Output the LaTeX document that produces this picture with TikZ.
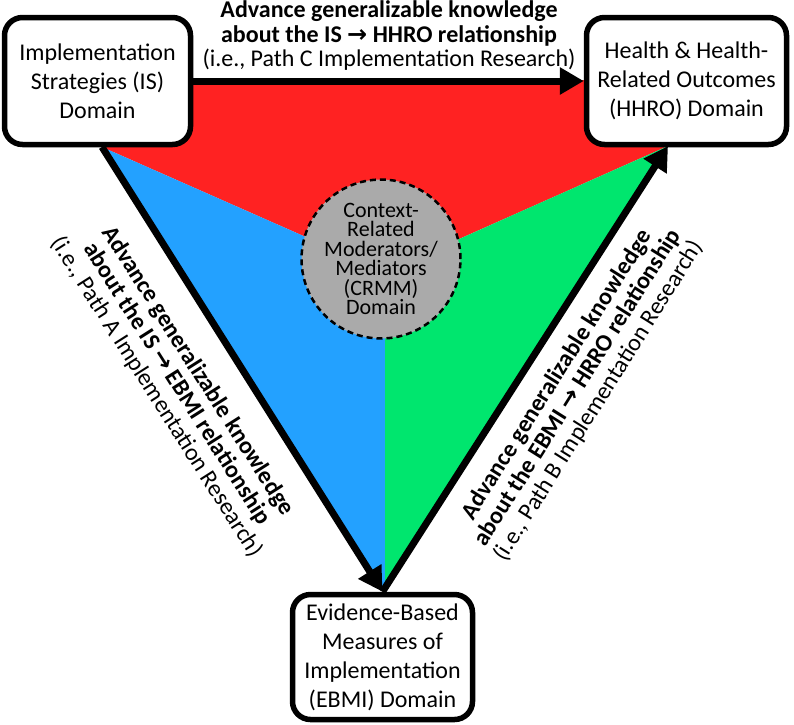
\documentclass[tikz,border=0pt]{standalone}
\usepackage{fontspec}
\setmainfont{Carlito}
\newfontfamily\symfont{DejaVu Sans}
\usetikzlibrary{arrows.meta,calc}
\definecolor{sectred}{RGB}{255,34,34}
\definecolor{sectblue}{RGB}{35,161,255}
\definecolor{sectgreen}{RGB}{0,230,110}
\definecolor{crmmgray}{RGB}{170,170,170}
\newcommand{\rarr}{{\symfont\bfseries\fontsize{24}{24}\selectfont →}}
\tikzset{
  domainbox/.style={draw, line width=5.5pt, rounded corners=18pt, fill=white, align=center,
    font=\fontsize{24}{29}\selectfont, inner sep=0pt},
  pathlabel/.style={align=center, font=\fontsize{24}{24.5}\selectfont, inner sep=0pt},
  conn/.style={line width=7pt},
  arrowed/.style={-{Triangle[length=24pt,width=26pt]}},
}
\begin{document}
\begin{tikzpicture}[x=1pt,y=-1pt]
\useasboundingbox (0,0) rectangle (794,724);
% sector fills
\coordinate (tl) at (60,80);
\coordinate (tr) at (709,80);
\coordinate (ISb) at (102,147);
\coordinate (HHb) at (668,146);
\coordinate (mid) at (385,272);
\coordinate (bot) at (385,592);
\fill[sectred] (tl) -- (tr) -- (HHb) -- (mid) -- (ISb) -- cycle;
\fill[sectblue] (ISb) -- (mid) -- (bot) -- cycle;
\fill[sectgreen] (HHb) -- (mid) -- (bot) -- cycle;
% CRMM circle
\node[circle, draw, fill=crmmgray, dashed, dash pattern=on 6pt off 4pt, line width=2.5pt,
  minimum size=140pt, inner sep=0pt, align=center, font=\fontsize{22}{19.5}\selectfont]
  (CRMM) at (381,259) {Context-\\Related\\Moderators/\\Mediators\\(CRMM)\\Domain};
% domain boxes
\node[domainbox, minimum width=186pt, minimum height=127pt] (IS) at (97.5,81)
  {Implementation\\Strategies (IS)\\Domain};
\node[domainbox, minimum width=200pt, minimum height=127pt] (HHRO) at (686.5,81)
  {Health \& Health-\\Related Outcomes\\(HHRO) Domain};
\node[domainbox, minimum width=180pt, minimum height=125pt] (EBMI) at (382.5,657)
  {Evidence-Based\\Measures of\\Implementation\\(EBMI) Domain};
% connectors
\draw[conn, arrowed] (IS) -- (HHRO);
\draw[conn, arrowed] (ISb) -- (EBMI.north);
\draw[conn, arrowed] (EBMI.north) -- (HHb);
% labels
\node[pathlabel] (labC) at (389,36)
  {\textbf{Advance generalizable knowledge}\\\textbf{about the IS \rarr\ HHRO relationship}\\(i.e., Path C Implementation Research)};
\node[pathlabel, rotate=-57.55] (labA) at (177,384)
  {\textbf{Advance generalizable knowledge}\\\textbf{about the IS \rarr\ EBMI relationship}\\(i.e., Path A Implementation Research)};
\node[pathlabel, rotate=57.9] (labB) at (578,388)
  {\textbf{Advance generalizable knowledge}\\\textbf{about the EBMI \rarr\ HRRO relationship}\\(i.e., Path B Implementation Research)};
\end{tikzpicture}
\end{document}
